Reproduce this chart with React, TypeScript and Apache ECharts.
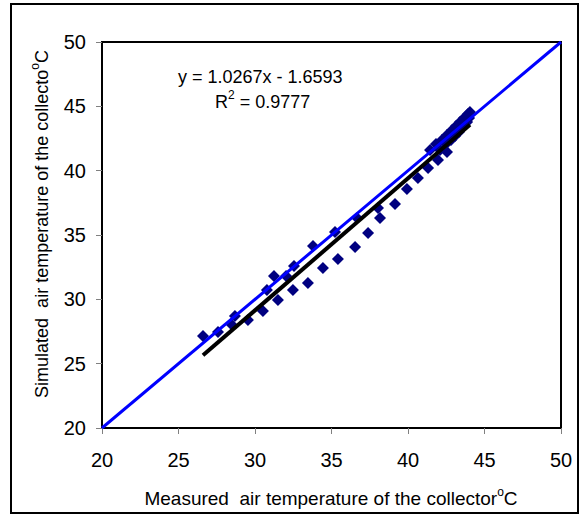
import React, { useEffect, useRef } from "react";
import * as echarts from "echarts";

const measured = [
  26.6, 27.58, 28.43, 28.69, 30.78, 31.24, 32.03, 32.55, 33.79, 35.23, 36.67, 38.04,
  29.54, 30.52, 31.5, 32.48, 33.46, 34.44, 35.42, 36.54, 37.39, 38.17, 39.15, 39.93, 40.65, 41.31, 41.96, 42.55,
  41.44, 41.83, 42.22, 42.55, 42.88, 43.14, 43.4, 43.66, 43.92, 44.05,
  42.09, 42.48, 42.81, 43.07, 43.33, 43.59, 43.86, 43.99,
];
const simulated = [
  27.15, 27.46, 28.08, 28.7, 30.73, 31.81, 31.81, 32.59, 34.15, 35.23, 36.32, 37.1,
  28.39, 29.09, 29.95, 30.73, 31.27, 32.44, 33.13, 34.07, 35.16, 36.32, 37.41, 38.58, 39.43, 40.21, 40.83, 41.45,
  41.61, 42.07, 42.38, 42.77, 43.16, 43.47, 43.78, 44.09, 44.4, 44.56,
  41.61, 42.07, 42.38, 42.69, 43.0, 43.39, 43.78, 44.09,
];
const slope = 1.0267;
const intercept = -1.6593;
const rSquared = "0.9777";
const axisMin = 20;
const axisMax = 50;
const tickStep = 5;
const xTitle = "Measured  air temperature of the collector";
const yTitle = "Simulated  air temperature of the collecto";

export default function App() {
  const ref = useRef<HTMLDivElement>(null);
  useEffect(() => {
    if (!ref.current) return;
    const chart = echarts.init(ref.current, null, { renderer: "svg" });
    const pts = measured.map((x, i) => [x, simulated[i]]);
    const xMin = Math.min(...measured);
    const xMax = Math.max(...measured);
    const trend = [
      [xMin, slope * xMin + intercept],
      [xMax, slope * xMax + intercept],
    ];
    const font = "Liberation Sans, Arial, sans-serif";
    const axisCommon = {
      type: "value",
      min: axisMin,
      max: axisMax,
      interval: tickStep,
      axisLine: { show: true, lineStyle: { color: "#000", width: 2 } },
      axisTick: { show: true, length: 6, lineStyle: { color: "#808080", width: 1 } },
      splitLine: { show: false },
    };
    const richTitle = (size: number) => ({
      n: { fontSize: size, fontFamily: font, fill: "#000", lineHeight: 22, verticalAlign: "bottom" },
      s: { fontSize: 12, fontFamily: font, fill: "#000", lineHeight: 22, verticalAlign: "top" },
    });
    chart.setOption({
      animation: false,
      backgroundColor: "#fff",
      grid: {
        left: 102,
        right: 26,
        top: 42,
        bottom: 88,
        show: true,
        borderColor: "#000",
        borderWidth: 2,
        backgroundColor: "transparent",
      },
      xAxis: {
        ...axisCommon,
        axisLabel: { fontSize: 20, color: "#000", fontFamily: font, margin: 22 },
      },
      yAxis: {
        ...axisCommon,
        axisLabel: { fontSize: 20, color: "#000", fontFamily: font, margin: 16 },
      },
      series: [
        {
          type: "scatter",
          data: pts,
          symbol: "diamond",
          symbolSize: 12,
          itemStyle: { color: "#000080", opacity: 1 },
          z: 2,
        },
        {
          type: "line",
          data: trend,
          showSymbol: false,
          lineStyle: { color: "#000", width: 4 },
          z: 3,
        },
        {
          type: "line",
          data: [
            [axisMin, axisMin],
            [axisMax, axisMax],
          ],
          showSymbol: false,
          lineStyle: { color: "#0000FF", width: 3 },
          z: 4,
        },
      ],
      graphic: [
        {
          type: "rect",
          shape: { x: 11, y: 4, width: 567, height: 509 },
          style: { fill: "none", stroke: "#000", lineWidth: 2 },
          silent: true,
        },
        {
          type: "text",
          x: 178,
          y: 77,
          style: {
            text: `y = ${slope}x - ${Math.abs(intercept)}`,
            font: `18px ${font}`,
            fill: "#000",
            align: "left",
            verticalAlign: "middle",
          },
        },
        {
          type: "text",
          x: 215,
          y: 100,
          style: {
            text: `{n|R}{s|2}{n| = ${rSquared}}`,
            align: "left",
            verticalAlign: "middle",
            rich: richTitle(18),
          },
        },
        {
          type: "text",
          x: 331,
          y: 497,
          style: {
            text: `{n|${xTitle}}{s|o}{n|C}`,
            align: "center",
            verticalAlign: "middle",
            rich: richTitle(19),
          },
        },
        {
          type: "text",
          x: 40,
          y: 224,
          rotation: Math.PI / 2,
          style: {
            text: `{n|${yTitle}}{s|o}{n|C}`,
            align: "center",
            verticalAlign: "middle",
            rich: richTitle(18),
          },
        },
      ],
    });
    return () => chart.dispose();
  }, []);
  return <div ref={ref} style={{ width: 587, height: 516, position: "fixed", left: 0, top: 0 }} />;
}
